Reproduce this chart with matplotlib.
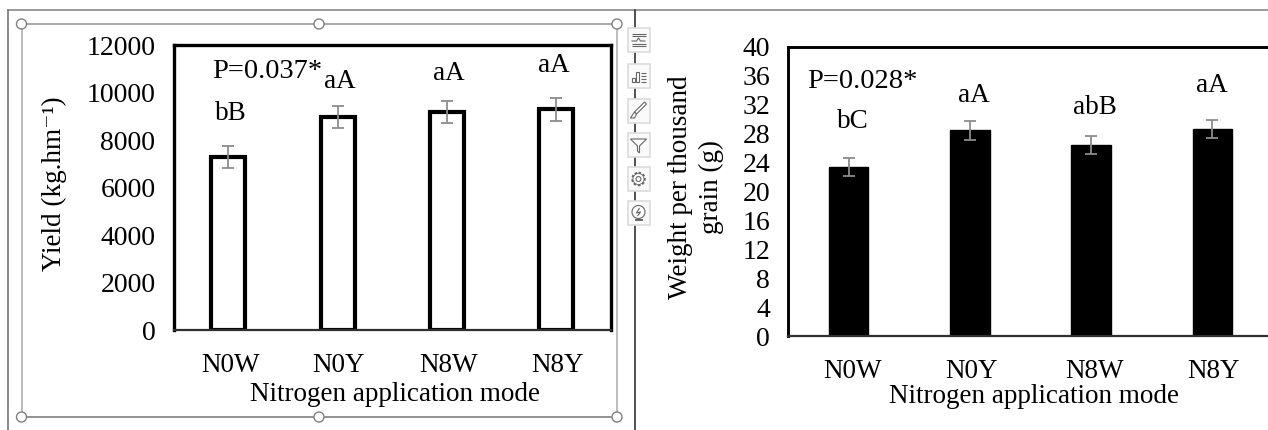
import matplotlib
matplotlib.use('Agg')
import matplotlib.pyplot as plt
from matplotlib.patches import Circle, Rectangle, Polygon, Ellipse

W, H = 1268, 430

categories = ['N0W', 'N0Y', 'N8W', 'N8Y']
yield_values = [7290, 8970, 9180, 9290]
yield_err = [470, 460, 470, 470]
yield_letters = ['bB', 'aA', 'aA', 'aA']
grain_values = [23.4, 28.4, 26.4, 28.6]
grain_err = [1.25, 1.25, 1.3, 1.2]
grain_letters = ['bC', 'aA', 'abB', 'aA']
yield_ticks = [0, 2000, 4000, 6000, 8000, 10000, 12000]
grain_ticks = [0, 4, 8, 12, 16, 20, 24, 28, 32, 36, 40]

plt.rcParams['font.family'] = ['Liberation Serif', 'DejaVu Serif']

fig = plt.figure(figsize=(W / 100, H / 100), dpi=100)
# everything outside the axes is laid out in image pixels
px = fig.add_axes([0, 0, 1, 1])
px.set_xlim(0, W)
px.set_ylim(H, 0)
px.axis('off')


def icon(i, cx, cy):
	c = '#666666'
	kw = dict(c=c, lw=0.8, zorder=5, solid_capstyle='butt')
	if i == 0:
		for dy in (-6, -4, 4, 6):
			px.plot([cx - 7, cx + 7], [cy + dy, cy + dy], **kw)
		px.plot([cx - 7, cx - 2, cx, cx + 2, cx + 7], [cy + 1, cy + 1, cy - 2, cy + 1, cy + 1], **kw)
	elif i == 1:
		for x, h in ((-7, 4), (-3, 10)):
			px.add_patch(Rectangle((cx + x, cy + 6 - h), 3, h, fc='white', ec=c, lw=0.8, zorder=5))
		for dy in (-3, 0, 3, 6):
			px.plot([cx + 2, cx + 7], [cy + dy, cy + dy], **kw)
	elif i == 2:
		px.add_patch(Polygon([(cx + 6, cy - 9), (cx + 8, cy - 7), (cx - 2, cy + 3), (cx - 4, cy + 1)],
			fc='white', ec=c, lw=0.8, zorder=5))
		px.add_patch(Polygon([(cx - 4, cy + 1), (cx - 2, cy + 3), (cx - 4, cy + 7), (cx - 8, cy + 7)],
			fc='white', ec=c, lw=0.8, zorder=5))
	elif i == 3:
		px.add_patch(Polygon([(cx - 8, cy - 6), (cx + 8, cy - 6), (cx + 1, cy + 1), (cx + 1, cy + 8),
			(cx - 1, cy + 6), (cx - 1, cy + 1)], fc='white', ec=c, lw=0.8, zorder=5))
	elif i == 4:
		px.add_patch(Circle((cx, cy), 6, fc='white', ec=c, lw=1.8, ls=(0, (1, 0.7)), zorder=5))
		px.add_patch(Circle((cx, cy), 5.5, fc='white', ec=c, lw=0.6, zorder=5))
		px.add_patch(Circle((cx, cy), 2.5, fc='white', ec=c, lw=0.8, zorder=5))
	else:
		px.add_patch(Ellipse((cx, cy - 1), 13, 13, fc='white', ec=c, lw=0.8, zorder=5))
		px.plot([cx + 1, cx - 2, cx + 2, cx - 1], [cy - 5, cy, cy - 1, cy + 3], **kw)
		px.plot([cx - 3, cx + 3], [cy + 7, cy + 7], c=c, lw=1.4, zorder=5)


def chrome():
	gray = '#8a8a8a'
	px.plot([7.5, W], [9.5, 9.5], c=gray, lw=1.2)
	px.plot([7.5, 7.5], [9.5, H], c='#777777', lw=1.2)
	px.plot([635, 635], [9.5, H], c='#333333', lw=1.2)
	px.plot([21.5, 21.5], [24, 417], c='#b0b0b0', lw=1.2)
	px.plot([617, 617], [24, 417], c='#b0b0b0', lw=1.2)
	px.plot([21.5, 617], [24, 24], c='#999999', lw=1.2)
	px.plot([21.5, 617], [417, 417], c='#808080', lw=1.2)
	for x in (21.5, 319, 617):
		for y in (24, 417):
			px.add_patch(Circle((x, y), 5, fc='white', ec='#808080', lw=1, zorder=3))
	for i, y in enumerate((40, 76, 111, 145, 179, 213)):
		px.add_patch(Rectangle((627.5, y - 12), 22, 24, fc='#fafafa', ec='#dcdcdc', lw=1.2, zorder=3))
		icon(i, 638.5, y)


def bar_panel(left, top, right, bottom, values, err, ticks, ymax, width, face, spine_lw, bar_lw):
	ax = fig.add_axes([left / W, 1 - bottom / H, (right - left) / W, (bottom - top) / H])
	ax.bar(range(len(values)), values, width=width, fc=face, ec='black', lw=bar_lw, zorder=2)
	ax.errorbar(range(len(values)), values, yerr=err, fmt='none', ecolor='#8c8c8c', elinewidth=1.3,
		capsize=4, capthick=1.3, zorder=3)
	ax.set_xlim(-0.5, len(values) - 0.5)
	ax.set_ylim(0, ymax)
	ax.set_yticks(ticks)
	ax.set_xticks([])
	ax.tick_params(axis='y', length=0, pad=13, labelsize=20)
	for side in ('top', 'left', 'right'):
		ax.spines[side].set_linewidth(spine_lw)
	ax.spines['bottom'].set_linewidth(1.6)
	ax.spines['bottom'].set_color('#303030')
	ax.patch.set_alpha(0)
	return ax


chrome()

ax1 = bar_panel(173.5, 45, 611, 330, yield_values, yield_err, yield_ticks, 12000, 0.31, 'white', 2.4, 3)
ax2 = bar_panel(788, 46.5, 1273, 336, grain_values, grain_err, grain_ticks, 40, 0.325, 'black', 2.1, 1)

for x, y, s in zip([230.5, 340, 449, 554], [113, 81, 74, 65], yield_letters):
	px.text(x, y, s, fontsize=19.5, ha='center', va='center')
for x, y, s in zip([852.5, 974, 1095, 1212], [122, 95, 108, 86], grain_letters):
	px.text(x, y, s, fontsize=19.5, ha='center', va='center')
px.text(212, 72, 'P=0.037*', fontsize=20.5, va='center')
px.text(807, 82, 'P=0.028*', fontsize=20.5, va='center')

for x, s in zip([230.5, 339, 448.5, 558], categories):
	px.text(x, 365, s, fontsize=19.5, ha='center', va='center')
for x, s in zip([852.5, 972, 1095, 1214], categories):
	px.text(x, 372, s, fontsize=19.5, ha='center', va='center')
px.text(395, 394.5, 'Nitrogen application mode', fontsize=19.5, ha='center', va='center')
px.text(1034, 396.5, 'Nitrogen application mode', fontsize=19.5, ha='center', va='center')

px.text(54, 184, 'Yield (kg.hm\u207b\u00b9)', fontsize=19.5, rotation=90, ha='center', va='center')
px.text(696, 187, 'Weight per thousand\ngrain (g)', fontsize=19.5, rotation=90, ha='center', va='center',
	multialignment='center', linespacing=1.3)

fig.savefig('out.png', dpi=100)
